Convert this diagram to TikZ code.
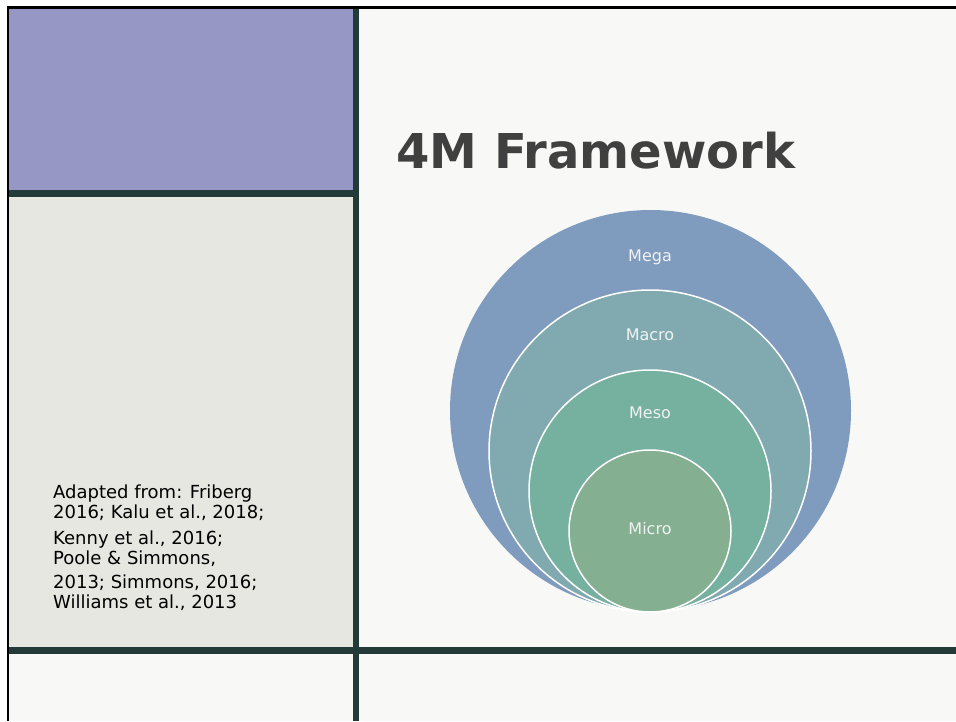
\documentclass[tikz,border=0pt]{standalone}
\usepackage{fontspec}
\setmainfont{DejaVu Sans}
\definecolor{purp}{HTML}{9797C5}
\definecolor{grayp}{HTML}{E6E7E1}
\definecolor{darkbar}{HTML}{223B38}
\definecolor{bgp}{HTML}{F8F8F6}
\definecolor{megac}{HTML}{7F9BBE}
\definecolor{macroc}{HTML}{80AAB0}
\definecolor{mesoc}{HTML}{76B09F}
\definecolor{microc}{HTML}{84AF91}
\definecolor{titlec}{HTML}{404040}
\definecolor{labc}{HTML}{F0F2F2}
\begin{document}
\begin{tikzpicture}[x=1pt,y=-1pt,
  ring/.style={circle,inner sep=0pt,draw=white,line width=1.5pt},
  lab/.style={font=\fontsize{16}{18}\selectfont,text=labc,inner sep=0pt},
  ref/.style={font=\fontsize{18}{20}\selectfont,text=black,anchor=base west,inner sep=0pt}]
\useasboundingbox (0,0) rectangle (956,721);
\fill[white] (0,0) rectangle (956,721);
\fill[bgp] (8,8) rectangle (956,721);
\fill[purp] (8,8) rectangle (356,193);
\fill[grayp] (8,193) rectangle (356,650);
% dark bars
\fill[darkbar] (8,190) rectangle (356,196.5);
\fill[darkbar] (353,8) rectangle (359,721);
\fill[darkbar] (8,647) rectangle (956,654);
% black border
\draw[black,line width=2.5pt] (8,721) -- (8,7.25) -- (956,7.25);
% title
\node[font=\fontsize{48}{56}\selectfont\bfseries,text=titlec,anchor=base west,inner sep=0pt] (title) at (396,168) {4M Framework};
% circles
\node[ring,draw=none,fill=megac,minimum size=401pt] (mega) at (650.5,410.5) {};
\node[ring,fill=macroc,minimum size=322pt] (macro) at (650,451) {};
\node[ring,fill=mesoc,minimum size=242pt] (meso) at (650,491) {};
\node[ring,fill=microc,minimum size=162pt] (micro) at (650,531) {};
\node[lab] (lmega) at (650,257) {Mega};
\node[lab] (lmacro) at (650,335) {Macro};
\node[lab] (lmeso) at (650,413) {Meso};
\node[lab] (lmicro) at (650,529) {Micro};
% references
\node[ref] (r1) at (53,498) {Adapted from: Friberg};
\node[ref] (r2) at (53,518.5) {2016; Kalu et al., 2018;};
\node[ref] (r3) at (53,544) {Kenny et al., 2016;};
\node[ref] (r4) at (53,564.5) {Poole \& Simmons,};
\node[ref] (r5) at (53,588) {2013; Simmons, 2016;};
\node[ref] (r6) at (53,608.5) {Williams et al., 2013};
\end{tikzpicture}
\end{document}
